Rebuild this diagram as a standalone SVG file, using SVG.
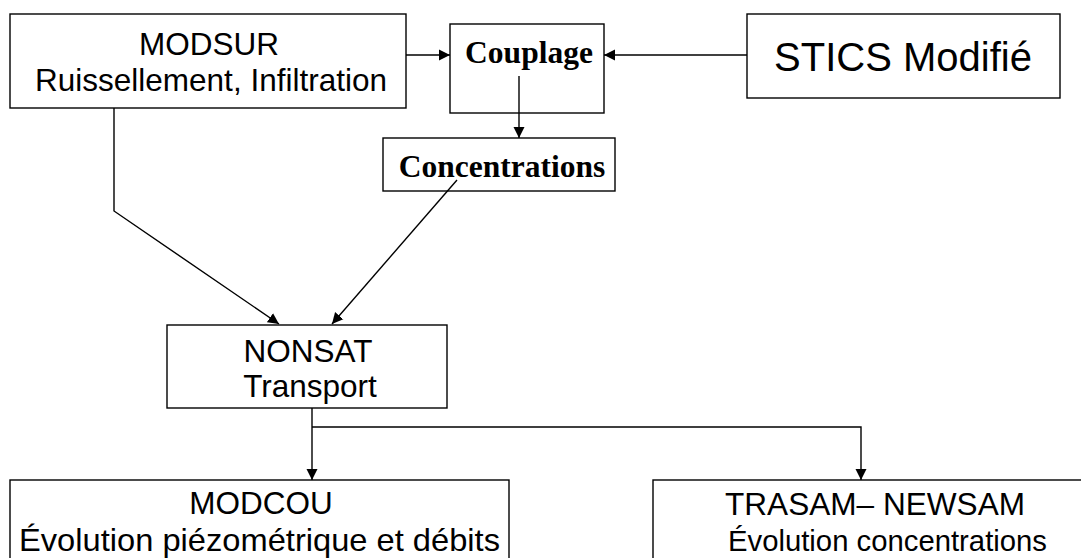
<svg xmlns="http://www.w3.org/2000/svg" width="1081" height="558" viewBox="0 0 1081 558">
<style>
.box{fill:#fff;stroke:#000;stroke-width:1.4}
.sans{font-family:"Liberation Sans",Arial,sans-serif;font-size:31.5px;fill:#000;text-anchor:middle}
.serif{font-family:"Liberation Serif","Times New Roman",serif;font-size:31.5px;font-weight:bold;fill:#000;text-anchor:middle}
.con{fill:none;stroke:#000;stroke-width:1.4}
</style>
<defs>
<marker id="arr" markerUnits="userSpaceOnUse" markerWidth="12" markerHeight="12" refX="11" refY="5.5" orient="auto" viewBox="0 0 12 11">
<path d="M0,0 L11,5.5 L0,11 z" fill="#000"/>
</marker>
</defs>
<rect width="1081" height="558" fill="#fff"/>
<g id="modsur">
<rect class="box" x="10" y="14" width="396" height="94"/>
<text class="sans" x="209" y="55">MODSUR</text>
<text class="sans" x="211" y="91">Ruissellement, Infiltration</text>
</g>
<g id="couplage">
<rect class="box" x="450" y="24" width="154" height="89"/>
<text class="serif" x="529" y="63">Couplage</text>
</g>
<g id="stics">
<rect class="box" x="747" y="14" width="313" height="84"/>
<text class="sans" x="903" y="71" style="font-size:40px">STICS Modifié</text>
</g>
<g id="concentrations">
<rect class="box" x="383" y="138" width="232" height="53"/>
<text class="serif" x="502" y="177">Concentrations</text>
</g>
<g id="nonsat">
<rect class="box" x="167" y="325" width="280" height="83"/>
<text class="sans" x="308" y="362">NONSAT</text>
<text class="sans" x="310" y="397">Transport</text>
</g>
<g id="modcou">
<rect class="box" x="10" y="480" width="499" height="95"/>
<text class="sans" x="261" y="514">MODCOU</text>
<text class="sans" x="19" y="551" style="text-anchor:start" textLength="481" lengthAdjust="spacingAndGlyphs">Évolution piézométrique et débits</text>
</g>
<g id="trasam">
<rect class="box" x="653" y="480" width="440" height="95"/>
<text class="sans" x="725" y="515" style="text-anchor:start" textLength="300" lengthAdjust="spacingAndGlyphs">TRASAM– NEWSAM</text>
<text class="sans" x="728" y="551" style="text-anchor:start;font-size:30px" textLength="319" lengthAdjust="spacingAndGlyphs">Évolution concentrations</text>
</g>
<g id="connectors">
<path class="con" d="M406,55 H450" marker-end="url(#arr)"/>
<path class="con" d="M747,55 H604" marker-end="url(#arr)"/>
<path class="con" d="M519,76 V138" marker-end="url(#arr)"/>
<path class="con" d="M114,108 V211 L279,324" marker-end="url(#arr)"/>
<path class="con" d="M457,180 L332,324" marker-end="url(#arr)"/>
<path class="con" d="M312,408 V480" marker-end="url(#arr)"/>
<path class="con" d="M312,427 H861 V480" marker-end="url(#arr)"/>
</g>
</svg>
